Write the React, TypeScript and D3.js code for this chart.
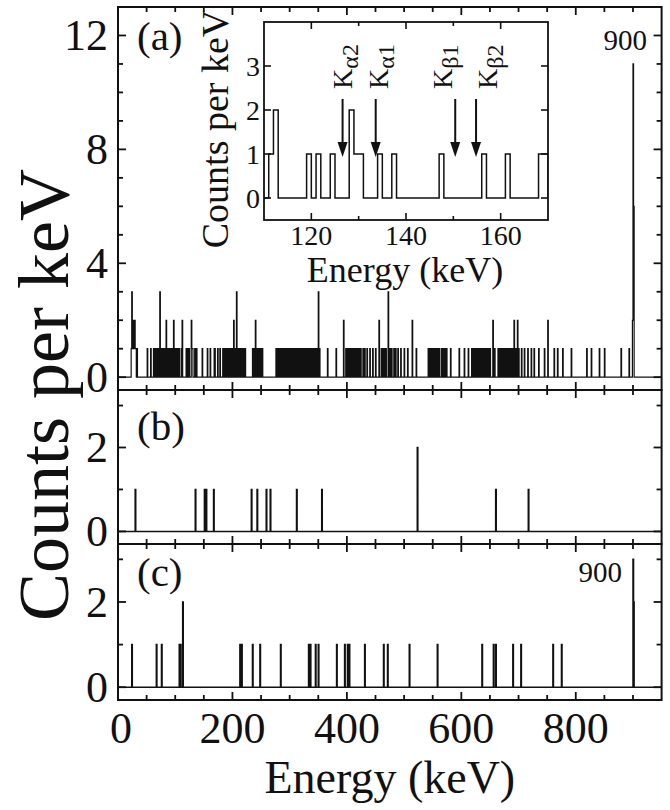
import React, { useEffect, useRef } from 'react';
import * as d3 from 'd3';

const W = 670;
const H = 810;
const FONT = 'Liberation Serif, Times New Roman, serif';

// panel (a): bin energies (keV) grouped by counts per keV
const aOnes = [
  23, 25, 26, 28, 30, 31, 33, 51, 57,
  62, 64, 66, 68, 70, 75, 77, 79, 81, 86, 88, 90, 92, 94, 99, 101, 103, 105, 107,
  111, 119, 121, 124, 129, 130, 134, 137, 147, 156, 161, 168, 169,
  174, 178, 183, 186, 188, 190, 192, 195, 197, 199, 204, 206, 210, 212, 214, 217, 219, 222,
  235, 237, 243, 246, 249, 252,
  276, 279, 281, 283, 286, 288, 290, 293, 295, 297, 300, 302, 305, 307, 309, 312, 314, 317, 319, 321, 324, 326,
  329, 331, 333, 336, 338, 341, 343, 345, 348, 352,
  366, 381, 398, 401, 403, 406, 408, 411, 413, 416, 418, 421, 424, 428, 431, 435, 440, 445, 450,
  460, 463, 466, 468, 475, 478, 482, 485, 489,
  494, 500, 506, 521, 542, 545, 547, 550, 553, 555, 558, 561, 565, 568, 571, 574, 581, 596, 605,
  612, 618, 621, 623, 626, 629, 631, 634, 637, 640, 642, 645, 648, 650, 658,
  664, 667, 670, 673, 676, 679, 682, 684, 687, 690, 694, 696, 700,
  705, 710, 716, 722, 727, 735, 745, 762, 768, 777, 792, 819, 827, 841, 850, 879, 893,
];
const aTwos = [27, 29, 84, 97, 112, 128, 202, 240, 394, 456, 514, 655, 692, 698, 751, 899];
const aThrees = [24, 73, 207, 350, 472];
const aPeakE = [900, 901];
const aPeakC = [11, 6];

// panel (b)
const bOnes = [30, 135, 151, 154, 167, 233, 243, 259, 266, 312, 356, 660, 717];
const bTwos = [523];

// panel (c)
const cOnes = [
  24, 67, 76, 107, 109, 213, 216, 235, 248, 284, 333, 336, 345, 350, 382, 396, 401, 404, 431, 464, 471, 509,
  558, 636, 656, 660, 690, 704, 760, 775,
];
const cTwos = [113, 901];
const cThrees = [900];

const xMajor = [0, 200, 400, 600, 800];
const aYMajor = [0, 4, 8, 12];
const bcYMajor = [0, 2];

// inset
const insetXMajor = [120, 140, 160];
const insetXMinor = [130, 150];
const insetYMajor = [0, 1, 2, 3];
const lineE = [126.6, 133.6, 150.4, 154.8];
const lineSub = ['α2', 'α1', 'β1', 'β2'];
const lineLabelE = [128.5, 136.3, 149.8, 159.3];

type Bin = [number, number];

function toBins(groups: Array<[number[], number]>): Bin[] {
  const m = new Map<number, number>();
  groups.forEach(([es, c]) => es.forEach(e => m.set(e, c)));
  return Array.from(m.entries()).sort((a, b) => a[0] - b[0]);
}

function stepPoints(bins: Bin[], lo: number, hi: number): Bin[] {
  const pts: Bin[] = [[lo, 0]];
  bins.forEach(([e, c], i) => {
    pts.push([e, c]);
    const next = bins[i + 1];
    if (!next || next[0] !== e + 1) pts.push([e + 1, 0]);
  });
  pts.push([hi, 0]);
  return pts;
}

export default function App() {
  const ref = useRef<SVGSVGElement>(null);

  useEffect(() => {
    const svg = d3.select(ref.current);
    svg.selectAll('*').remove();

    const x = d3.scaleLinear().domain([0, 950]).range([118, 661.6]);
    const x0 = x.range()[0];
    const x1 = x.range()[1];

    const peak: Array<[number[], number]> = aPeakE.map((e, i) => [[e], aPeakC[i]]);
    const binsA = toBins([[aOnes, 1], [aTwos, 2], [aThrees, 3], ...peak]);
    const binsB = toBins([[bOnes, 1], [bTwos, 2]]);
    const binsC = toBins([[cOnes, 1], [cTwos, 2], [cThrees, 3]]);

    const panels = [
      { bins: binsA, sw: 1.2, y: d3.scaleLinear().domain([-0.45, 13]).range([390, 7]), major: aYMajor, minor: d3.range(1, 13), label: '(a)', labelY: 50 },
      { bins: binsB, sw: 1.5, y: d3.scaleLinear().domain([-0.3, 3.37]).range([544, 390]), major: bcYMajor, minor: [1, 3], label: '(b)', labelY: 440 },
      { bins: binsC, sw: 1.5, y: d3.scaleLinear().domain([-0.3, 3.36]).range([700, 544]), major: bcYMajor, minor: [1, 3], label: '(c)', labelY: 586 },
    ];

    const xMinor = d3.range(50, 950, 50).filter(v => !xMajor.includes(v));

    panels.forEach((p, i) => {
      const [yb, yt] = p.y.range();
      const g = svg.append('g');
      const clipId = `clip-${i}`;
      svg.append('clipPath').attr('id', clipId)
        .append('rect').attr('x', x0).attr('y', yt).attr('width', x1 - x0).attr('height', yb - yt);

      const line = d3.line<Bin>().x(d => x(d[0])).y(d => p.y(d[1])).curve(d3.curveStepAfter);
      g.append('path')
        .datum(stepPoints(p.bins, 0, 950))
        .attr('clip-path', `url(#${clipId})`)
        .attr('fill', 'none')
        .attr('stroke', '#111')
        .attr('stroke-width', p.sw)
        .attr('d', line);

      g.append('rect')
        .attr('x', x0).attr('y', yt).attr('width', x1 - x0).attr('height', yb - yt)
        .attr('fill', 'none').attr('stroke', '#111').attr('stroke-width', 2);

      const tick = (vals: number[], len: number) => {
        vals.forEach(v => {
          g.append('line').attr('x1', x(v)).attr('x2', x(v)).attr('y1', yb).attr('y2', yb - len);
          g.append('line').attr('x1', x(v)).attr('x2', x(v)).attr('y1', yt).attr('y2', yt + len);
        });
      };
      const ytick = (vals: number[], len: number) => {
        vals.forEach(v => {
          g.append('line').attr('x1', x0).attr('x2', x0 + len).attr('y1', p.y(v)).attr('y2', p.y(v));
          g.append('line').attr('x1', x1).attr('x2', x1 - len).attr('y1', p.y(v)).attr('y2', p.y(v));
        });
      };
      tick(xMajor.filter(v => v > 0), 8);
      tick(xMinor, 5);
      ytick(p.major, 8);
      ytick(p.minor.filter(v => !p.major.includes(v)), 5);
      g.selectAll('line').attr('stroke', '#111').attr('stroke-width', 1.8);

      g.selectAll('text.ylab')
        .data(p.major)
        .enter().append('text')
        .attr('class', 'ylab')
        .attr('x', 108)
        .attr('y', d => p.y(d) + 15)
        .attr('text-anchor', 'end')
        .attr('font-family', FONT)
        .attr('font-size', 44)
        .attr('fill', '#111')
        .text(d => d);

      g.append('text')
        .attr('x', 137).attr('y', p.labelY)
        .attr('font-family', FONT).attr('font-size', 41).attr('fill', '#111')
        .text(p.label);
    });

    // peak labels
    svg.append('text').attr('x', 647).attr('y', 50).attr('text-anchor', 'end')
      .attr('font-family', FONT).attr('font-size', 29).attr('fill', '#111').text('900');
    svg.append('text').attr('x', 622).attr('y', 582).attr('text-anchor', 'end')
      .attr('font-family', FONT).attr('font-size', 29).attr('fill', '#111').text('900');

    // x tick labels and title
    svg.selectAll('text.xlab')
      .data(xMajor)
      .enter().append('text')
      .attr('class', 'xlab')
      .attr('x', d => x(d) + (d === 0 ? 3 : 0))
      .attr('y', 743)
      .attr('text-anchor', 'middle')
      .attr('font-family', FONT)
      .attr('font-size', 44)
      .attr('fill', '#111')
      .text(d => d);

    svg.append('text')
      .attr('x', (x0 + x1) / 2).attr('y', 793)
      .attr('text-anchor', 'middle')
      .attr('font-family', FONT).attr('font-size', 46).attr('fill', '#111')
      .text('Energy (keV)');

    svg.append('text')
      .attr('transform', 'translate(68,395) rotate(-90)')
      .attr('text-anchor', 'middle')
      .attr('font-family', FONT).attr('font-size', 72).attr('fill', '#111')
      .text('Counts per keV');

    // inset
    const ix = d3.scaleLinear().domain([110, 170]).range([264, 548]);
    const iy = d3.scaleLinear().domain([-0.5, 4]).range([220, 22]);
    const ig = svg.append('g');
    svg.append('clipPath').attr('id', 'clip-inset')
      .append('rect').attr('x', 264).attr('y', 22).attr('width', 284).attr('height', 198);
    ig.append('rect').attr('x', 264).attr('y', 22).attr('width', 284).attr('height', 198).attr('fill', '#fff');

    const insetBins = binsA.filter(([e]) => e >= 110 && e < 170);
    const iline = d3.line<Bin>().x(d => ix(d[0])).y(d => iy(d[1])).curve(d3.curveStepAfter);
    ig.append('path')
      .datum(stepPoints(insetBins, 110, 170))
      .attr('clip-path', 'url(#clip-inset)')
      .attr('fill', 'none').attr('stroke', '#111').attr('stroke-width', 1.5)
      .attr('d', iline);

    ig.append('rect').attr('x', 264).attr('y', 22).attr('width', 284).attr('height', 198)
      .attr('fill', 'none').attr('stroke', '#111').attr('stroke-width', 1.8);

    const itg = ig.append('g').attr('stroke', '#111').attr('stroke-width', 1.6);
    insetXMajor.concat(insetXMinor).forEach(v => {
      const len = insetXMajor.includes(v) ? 7 : 4;
      itg.append('line').attr('x1', ix(v)).attr('x2', ix(v)).attr('y1', 220).attr('y2', 220 - len);
      itg.append('line').attr('x1', ix(v)).attr('x2', ix(v)).attr('y1', 22).attr('y2', 22 + len);
    });
    insetYMajor.forEach(v => {
      itg.append('line').attr('x1', 264).attr('x2', 271).attr('y1', iy(v)).attr('y2', iy(v));
      itg.append('line').attr('x1', 548).attr('x2', 541).attr('y1', iy(v)).attr('y2', iy(v));
    });

    ig.selectAll('text.ixlab')
      .data(insetXMajor)
      .enter().append('text')
      .attr('class', 'ixlab')
      .attr('x', d => ix(d)).attr('y', 245)
      .attr('text-anchor', 'middle')
      .attr('font-family', FONT).attr('font-size', 28).attr('fill', '#111')
      .text(d => d);
    ig.selectAll('text.iylab')
      .data(insetYMajor)
      .enter().append('text')
      .attr('class', 'iylab')
      .attr('x', 260).attr('y', d => iy(d) + 10)
      .attr('text-anchor', 'end')
      .attr('font-family', FONT).attr('font-size', 28).attr('fill', '#111')
      .text(d => d);

    ig.append('text')
      .attr('x', 405).attr('y', 282)
      .attr('text-anchor', 'middle')
      .attr('font-family', FONT).attr('font-size', 36).attr('fill', '#111')
      .text('Energy (keV)');
    ig.append('text')
      .attr('transform', 'translate(228,129) rotate(-90)')
      .attr('text-anchor', 'middle')
      .attr('font-family', FONT).attr('font-size', 38).attr('fill', '#111')
      .text('Counts per keV');

    // K x-ray line markers
    lineE.forEach((e, i) => {
      const ax = ix(e);
      const yStart = iy(2.25);
      const yTip = iy(0.93);
      ig.append('line').attr('x1', ax).attr('x2', ax).attr('y1', yStart).attr('y2', yTip - 10)
        .attr('stroke', '#111').attr('stroke-width', 2);
      ig.append('path')
        .attr('d', `M${ax},${yTip} L${ax - 5},${yTip - 15} L${ax + 5},${yTip - 15} Z`)
        .attr('fill', '#111');

      const t = ig.append('text')
        .attr('transform', `translate(${ix(lineLabelE[i])},${iy(2.48)}) rotate(-90)`)
        .attr('font-family', FONT).attr('fill', '#111');
      t.append('tspan').attr('font-size', 28).text('K');
      t.append('tspan').attr('font-size', 24).attr('dy', 6).text(lineSub[i]);
    });
  }, []);

  return (
    <svg
      ref={ref}
      width={W}
      height={H}
      style={{ position: 'absolute', left: 0, top: 0, background: '#fff' }}
    />
  );
}
